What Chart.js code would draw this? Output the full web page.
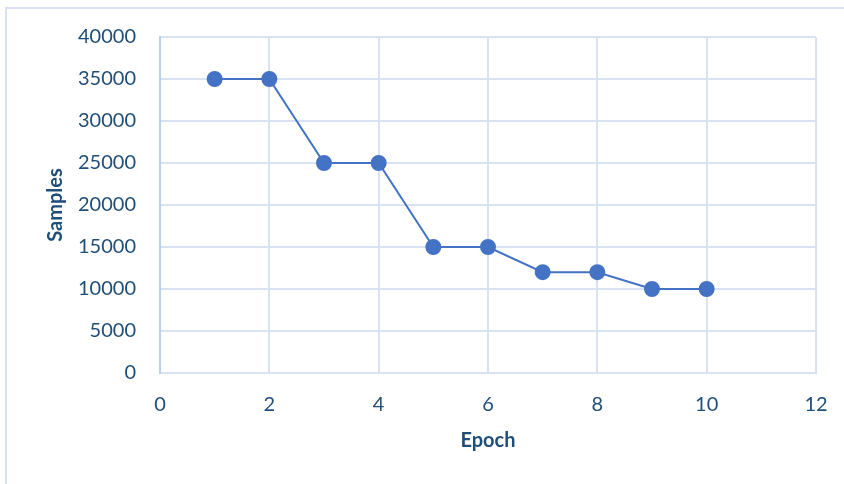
<!DOCTYPE html>
<html>
<head>
<meta charset="utf-8">
<script src="https://cdn.jsdelivr.net/npm/chart.js@4/dist/chart.umd.min.js"></script>
<style>
  html, body { margin: 0; padding: 0; background: #ffffff; }
  #wrap { width: 844px; height: 484px; }
</style>
</head>
<body>
<div id="wrap"><canvas id="c" width="844" height="484"></canvas></div>
<script>
// Training samples used per epoch
const epochs  = [1, 2, 3, 4, 5, 6, 7, 8, 9, 10];
const samples = [35000, 35000, 25000, 25000, 15000, 15000, 12000, 12000, 10000, 10000];

const xMin = 0, xMax = 12, xStep = 2;
const yMin = 0, yMax = 40000, yStep = 5000;

const xTitle = 'Epoch';
const yTitle = 'Samples';

const tickColor = '#1f4e79';
const gridColor = '#d9e2f3';
const seriesColor = '#4472c4';

// Frame drawn around the chart object
const framePlugin = {
  id: 'frame',
  beforeDraw(chart) {
    const ctx = chart.ctx;
    ctx.save();
    ctx.strokeStyle = '#d6e1f1';
    ctx.lineWidth = 2;
    ctx.beginPath();
    ctx.moveTo(6, 484);
    ctx.lineTo(6, 8);
    ctx.lineTo(844, 8);
    ctx.stroke();
    ctx.restore();
  }
};

new Chart(document.getElementById('c'), {
  type: 'scatter',
  data: {
    datasets: [{
      data: epochs.map((e, i) => ({ x: e, y: samples[i] })),
      showLine: true,
      borderColor: seriesColor,
      borderWidth: 2,
      backgroundColor: seriesColor,
      pointBackgroundColor: seriesColor,
      pointBorderColor: seriesColor,
      pointRadius: 7,
      pointHoverRadius: 7,
      tension: 0
    }]
  },
  options: {
    responsive: false,
    animation: false,
    layout: { padding: { left: 44, top: 37, right: 28, bottom: 31 } },
    plugins: {
      legend: { display: false },
      tooltip: { enabled: false }
    },
    scales: {
      x: {
        type: 'linear',
        min: xMin, max: xMax,
        afterFit(scale) {
          scale.height = 80;
          scale.paddingLeft = 0;
          scale.paddingRight = 0;
        },
        ticks: {
          stepSize: xStep,
          color: tickColor,
          padding: 20,
          font: { family: 'Lato', size: 20 },
          callback: v => String(v)
        },
        grid: { color: gridColor, lineWidth: 2, drawTicks: false },
        border: { color: gridColor, width: 2 },
        title: {
          display: true, text: xTitle, color: tickColor,
          font: { family: 'Lato', size: 20, weight: 'bold' },
          padding: { top: 10, bottom: 0 }
        }
      },
      y: {
        min: yMin, max: yMax,
        afterFit(scale) {
          scale.width = 116;
          scale.paddingTop = 0;
          scale.paddingBottom = 0;
        },
        ticks: {
          stepSize: yStep,
          color: tickColor,
          padding: 24,
          font: { family: 'Lato', size: 20 },
          callback: v => String(v)
        },
        grid: { color: gridColor, lineWidth: 2, drawTicks: false },
        border: { color: '#bcd0ee', width: 2 },
        title: {
          display: true, text: yTitle, color: tickColor,
          font: { family: 'Lato', size: 20, weight: 'bold' },
          padding: { top: 0, bottom: 20 }
        }
      }
    }
  },
  plugins: [framePlugin]
});
</script>
</body>
</html>
